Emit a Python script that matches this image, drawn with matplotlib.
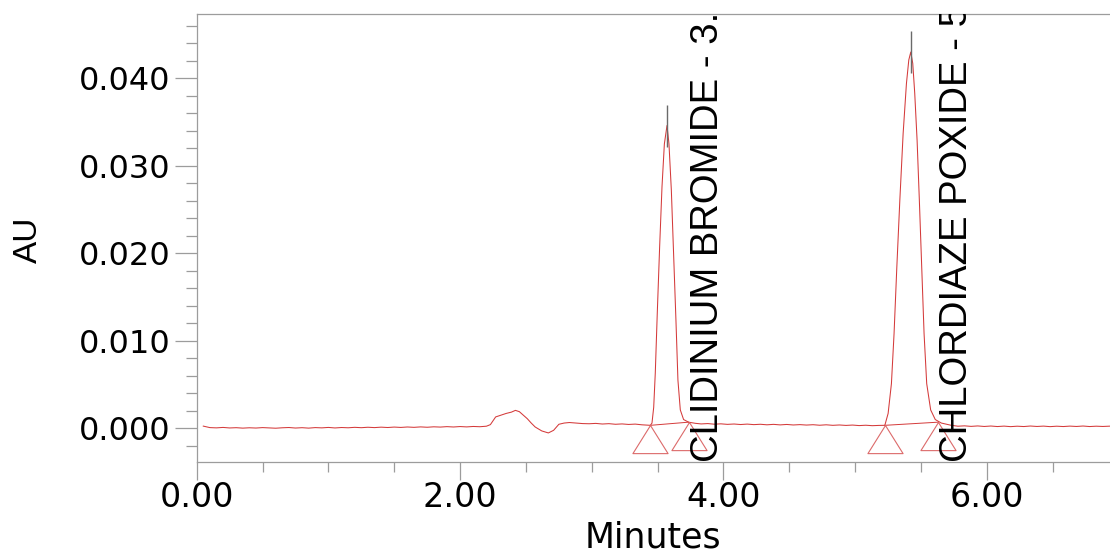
import matplotlib
matplotlib.use("Agg")
import matplotlib.pyplot as plt
from matplotlib.path import Path
import numpy as np

# ---------------- data ----------------
base1_min = [0.05, 0.10, 0.15, 0.20, 0.25, 0.30, 0.35, 0.40, 0.45, 0.50, 0.55, 0.60,
             0.65, 0.70, 0.75, 0.80, 0.85, 0.90, 0.95, 1.00, 1.05, 1.10, 1.15, 1.20,
             1.25, 1.30, 1.35, 1.40, 1.45, 1.50, 1.55, 1.60, 1.65, 1.70, 1.75, 1.80,
             1.85, 1.90, 1.95, 2.00, 2.05, 2.10, 2.15, 2.20]
base1_au = [0.00025, 0.00008, 0.00005, 0.00010, 0.00004, 0.00007, 0.00002, 0.00006,
            0.00003, 0.00008, 0.00004, 0.00001, 0.00006, 0.00009, 0.00003, 0.00007,
            0.00002, 0.00008, 0.00005, 0.00010, 0.00004, 0.00009, 0.00006, 0.00011,
            0.00007, 0.00012, 0.00008, 0.00013, 0.00009, 0.00014, 0.00010, 0.00015,
            0.00011, 0.00016, 0.00012, 0.00017, 0.00014, 0.00019, 0.00015, 0.00020,
            0.00016, 0.00021, 0.00018, 0.00024]

bump_min = [2.23, 2.27, 2.31, 2.35, 2.39, 2.42, 2.45, 2.48, 2.51, 2.54, 2.57, 2.62,
            2.67, 2.71, 2.75, 2.79, 2.83, 2.88, 2.93]
bump_au = [0.00042, 0.00130, 0.00150, 0.00170, 0.00185, 0.00205, 0.00190, 0.00150,
           0.00110, 0.00060, 0.00015, -0.00030, -0.00053, -0.00023, 0.00046, 0.00060,
           0.00066, 0.00060, 0.00054]

base2_min = [2.98, 3.03, 3.08, 3.13, 3.18, 3.23, 3.28, 3.33, 3.38, 3.42]
base2_au = [0.00052, 0.00056, 0.00049, 0.00053, 0.00046, 0.00050, 0.00044, 0.00048,
            0.00040, 0.00036]

peak1_min = [3.445, 3.457, 3.470, 3.482, 3.497, 3.515, 3.533, 3.551, 3.571, 3.586,
             3.604, 3.621, 3.639, 3.654, 3.672, 3.697, 3.735, 3.786]
peak1_au = [0.00034, 0.0006, 0.0024, 0.0063, 0.0131, 0.0207, 0.0276, 0.0325, 0.0346,
            0.0325, 0.0272, 0.0200, 0.0123, 0.0055, 0.0021, 0.0010, 0.0007, 0.00057]

base3_min = [3.83, 3.88, 3.93, 3.98, 4.03, 4.08, 4.13, 4.18, 4.23, 4.28, 4.33, 4.38,
             4.43, 4.48, 4.53, 4.58, 4.63, 4.68, 4.73, 4.78, 4.83, 4.88, 4.93, 4.98,
             5.03, 5.08, 5.13, 5.18]
base3_au = [0.00050, 0.00054, 0.00047, 0.00051, 0.00045, 0.00049, 0.00043, 0.00048,
            0.00042, 0.00046, 0.00040, 0.00045, 0.00039, 0.00044, 0.00038, 0.00042,
            0.00037, 0.00041, 0.00035, 0.00040, 0.00034, 0.00038, 0.00033, 0.00037,
            0.00031, 0.00035, 0.00030, 0.00033]

peak2_min = [5.225, 5.250, 5.275, 5.295, 5.316, 5.339, 5.364, 5.389, 5.407, 5.422,
             5.437, 5.452, 5.470, 5.487, 5.505, 5.523, 5.543, 5.573, 5.608, 5.654,
             5.730]
peak2_au = [0.00034, 0.0017, 0.0051, 0.0108, 0.0184, 0.0261, 0.0337, 0.0394, 0.0421,
            0.0430, 0.0417, 0.0383, 0.0329, 0.0261, 0.0184, 0.0108, 0.0051, 0.0021,
            0.0010, 0.0006, 0.00034]

base4_min = [5.78, 5.83, 5.88, 5.93, 5.98, 6.03, 6.08, 6.13, 6.18, 6.23, 6.28, 6.33,
             6.38, 6.43, 6.48, 6.53, 6.58, 6.63, 6.68, 6.73, 6.78, 6.83, 6.88, 6.94]
base4_au = [0.00024, 0.00028, 0.00022, 0.00027, 0.00021, 0.00026, 0.00020, 0.00025,
            0.00019, 0.00024, 0.00020, 0.00026, 0.00021, 0.00025, 0.00019, 0.00024,
            0.00020, 0.00025, 0.00021, 0.00026, 0.00020, 0.00024, 0.00021, 0.00025]

# integration start/end points (triangle markers) and apex ticks
peak_start_min = [3.445, 5.225]
peak_start_au = [0.00034, 0.00034]
peak_end_min = [3.735, 5.630]
peak_end_au = [0.00070, 0.00070]
apex_min = [3.571, 5.422]
apex_au = [0.0346, 0.0430]

peak_names = ["CLIDINIUM BROMIDE - 3.", "CHLORDIAZE POXIDE - 5"]
label_min = [3.882, 5.775]

x_major = [0.0, 2.0, 4.0, 6.0]
x_major_labels = ["0.00", "2.00", "4.00", "6.00"]
y_major = [0.000, 0.010, 0.020, 0.030, 0.040]
y_major_labels = ["0.000", "0.010", "0.020", "0.030", "0.040"]

# ---------------- figure ----------------
trace_t = np.concatenate([base1_min, bump_min, base2_min, peak1_min, base3_min,
                          peak2_min, base4_min])
trace_y = np.concatenate([base1_au, bump_au, base2_au, peak1_au, base3_au,
                          peak2_au, base4_au])

RED = "#d43a3a"
TRI = "#dc6a6a"
GRAY = "#9c9c9c"

fig = plt.figure(figsize=(11.10, 5.56), dpi=100)
W, H = 1110.0, 556.0
ax = fig.add_axes([196.7 / W, 1 - 461.7 / H, (W - 196.7) / W, (461.7 - 14) / H])

ax.plot(trace_t, trace_y, color=RED, lw=0.75, zorder=3)

# baselines between integration start/end
for t0, y0, t1, y1 in zip(peak_start_min, peak_start_au, peak_end_min, peak_end_au):
    ax.plot([t0, t1], [y0, y1], color=RED, lw=0.7, zorder=3)

# triangle markers with apex at data point
tri = Path([(0, 0), (-0.625, -1), (0.625, -1), (0, 0)],
           [Path.MOVETO, Path.LINETO, Path.LINETO, Path.CLOSEPOLY])
ax.plot(peak_start_min + peak_end_min, peak_start_au + peak_end_au, ls="none",
        marker=tri, markersize=40.5, markerfacecolor="none",
        markeredgecolor=TRI, markeredgewidth=0.8, zorder=4, clip_on=False)

# apex ticks
half = 0.0024
ax.vlines(apex_min, np.array(apex_au) - half, np.array(apex_au) + half,
          color="#6a6a6a", lw=1.0, zorder=5)

ax.set_xlim(0, (W - 196.7) / 131.7)
ax.set_ylim(-(461.7 - 428.3) / 8750, (428.3 - 14) / 8750)

narrow = ["Liberation Sans", "DejaVu Sans"]
for t, name in zip(label_min, peak_names):
    ax.text(t, ax.get_ylim()[0], name, rotation=90, ha="center", va="bottom",
            fontsize=27.5, family=narrow, color="black", clip_on=True, zorder=6)

# axes styling
ax.spines["right"].set_visible(False)
for s in ["left", "top", "bottom"]:
    ax.spines[s].set_color(GRAY)
    ax.spines[s].set_linewidth(0.9)

ax.set_xticks(x_major)
ax.set_xticklabels(x_major_labels)
ax.set_xticks(np.arange(0, 7.0, 0.5), minor=True)
ax.set_yticks(y_major)
ax.set_yticklabels(y_major_labels)
ax.set_yticks(np.arange(-0.002, 0.047, 0.002), minor=True)

ax.tick_params(axis="x", which="major", length=13, width=0.9, color=GRAY,
               labelsize=24, pad=1)
ax.tick_params(axis="x", which="minor", length=7, width=0.9, color=GRAY)
ax.tick_params(axis="y", which="major", length=15.6, width=0.9, color=GRAY,
               labelsize=23, pad=3)
ax.tick_params(axis="y", which="minor", length=7.7, width=0.9, color=GRAY)
for lab in ax.get_xticklabels() + ax.get_yticklabels():
    lab.set_family("DejaVu Sans")

ax.set_xlabel("Minutes", fontsize=25, family="DejaVu Sans")
ax.xaxis.set_label_coords(0.5, -(547 - 461.7) / (461.7 - 14))
ax.xaxis.label.set_va("baseline")

ax.set_ylabel("AU", fontsize=24, family=narrow)
ax.yaxis.set_label_coords((28.5 - 196.7) / (W - 196.7), (461.7 - 240) / (461.7 - 14))
ax.yaxis.label.set_va("center")

fig.savefig("out.png", dpi=100)
